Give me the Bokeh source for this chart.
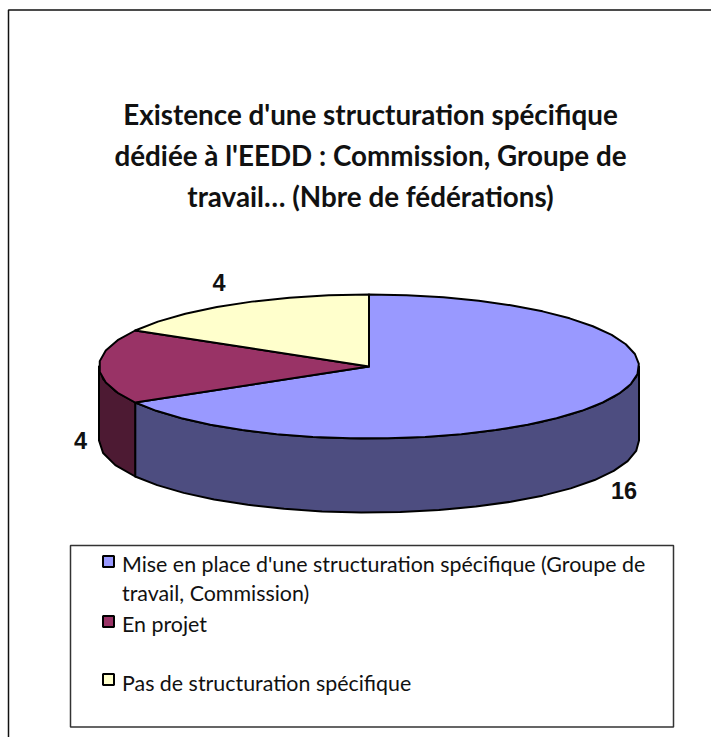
import numpy as np
from bokeh.plotting import figure
from bokeh.embed import file_html
from bokeh.resources import INLINE
from bokeh.core.properties import value

title_lines = ["Existence d'une structuration spécifique",
               "dédiée à l'EEDD : Commission, Groupe de",
               "travail… (Nbre de fédérations)"]
categories = ["Mise en place d'une structuration spécifique (Groupe de travail, Commission)",
              "En projet", "Pas de structuration spécifique"]
values = [16, 4, 4]
top_colors = ["#9999FF", "#993366", "#FFFFCC"]
side_colors = ["#4D4D80", "#4D1A33", "#808066"]
legend_rows = [["Mise en place d'une structuration spécifique (Groupe de", "travail, Commission)"],
               ["En projet"], ["Pas de structuration spécifique"]]

W, H = 711, 737
OX, OY = 0, 0
def X(px): return px - OX
def Y(py): return H - (py - OY)

p = figure(width=W, height=H, x_range=(0, W), y_range=(0, H), output_backend="svg",
           toolbar_location=None, min_border=0)
p.axis.visible = False
p.grid.visible = False
p.outline_line_color = None
p.background_fill_color = "white"

# outer frame (left and top sides)
p.line([X(8), X(8), X(719)], [Y(753), Y(9.5), Y(9.5)], line_color="#111111", line_width=1.5)

cx, cy, rx, ry, depth = 368.5, 366, 270, 72, 74
total = sum(values)
bounds = np.cumsum([0] + values) / total * 360.0

def pt(a):
    r = np.radians(a)
    return cx + rx * np.sin(r), cy - ry * np.cos(r)

def arc(a0, a1):
    n = max(2, int(abs(a1 - a0) / 8) + 1)
    return [pt(a) for a in np.linspace(a0, a1, n)]

for i in range(3):
    a0, a1 = max(bounds[i], 90), min(bounds[i + 1], 270)
    if a1 > a0:
        a = arc(a0, a1)
        xs = [q[0] for q in a] + [q[0] for q in a[::-1]]
        ys = [q[1] for q in a] + [q[1] + depth for q in a[::-1]]
        p.patch([X(v) for v in xs], [Y(v) for v in ys], fill_color=side_colors[i],
                line_color="black", line_width=2, line_join="round")

for i in range(3):
    a = arc(bounds[i], bounds[i + 1])
    xs = [cx] + [q[0] for q in a]
    ys = [cy] + [q[1] for q in a]
    p.patch([X(v) for v in xs], [Y(v) for v in ys], fill_color=top_colors[i],
            line_color="black", line_width=2, line_join="round")

lab_x = [623.5, 80, 218.5]
lab_y = [490, 440, 281.5]
p.text([X(v) for v in lab_x], [Y(v) for v in lab_y], text=[str(v) for v in values],
       text_font=value("Liberation Sans"), text_font_style="bold", text_font_size="23.5px",
       text_color="#111111", text_align="center", text_baseline="middle")

p.text([X(370)] * 3, [Y(v) for v in (114, 155, 196)], text=title_lines,
       text_font=value("Lato"), text_font_style="bold", text_font_size="27.8px",
       text_color="#111111", text_align="center", text_baseline="middle")

p.patch([X(70), X(673), X(673), X(70)], [Y(545), Y(545), Y(726.5), Y(726.5)],
        fill_color="white", line_color="#333333", line_width=1.5)

row_y = [[563, 592], [623], [682]]
swatch_y = [561, 621, 679]
for i, (lines, ys) in enumerate(zip(legend_rows, row_y)):
    p.rect([X(108)], [Y(swatch_y[i])], width=11, height=11, fill_color=top_colors[i],
           line_color="black", line_width=2)
    p.text([X(121.5)] * len(lines), [Y(v) for v in ys], text=lines,
           text_font=value("Lato"), text_font_size="21.4px", text_color="#111111",
           text_align="left", text_baseline="middle")

open("out.html", "w").write(file_html(p, INLINE))
